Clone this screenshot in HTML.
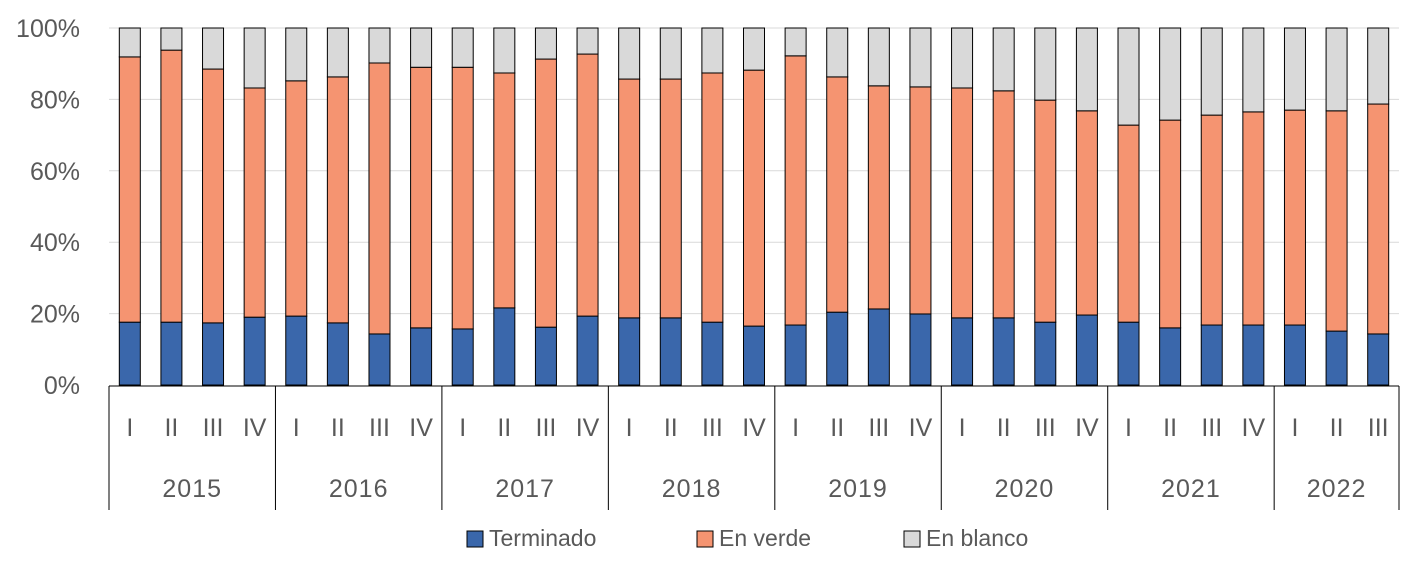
<!DOCTYPE html>
<html><head><meta charset="utf-8"><style>
body{margin:0;background:#fff;width:1417px;height:567px;overflow:hidden;font-family:"Liberation Sans",sans-serif}
svg text{font-family:"Liberation Sans",sans-serif;fill:#595959}
</style></head><body>
<svg id="c" width="1417" height="567"></svg>
<script>
const years=["2015","2016","2017","2018","2019","2020","2021","2022"];
const quarters=["I","II","III","IV","I","II","III","IV","I","II","III","IV","I","II","III","IV","I","II","III","IV","I","II","III","IV","I","II","III","IV","I","II","III"];
const terminado=[17.6,17.6,17.4,19,19.3,17.4,14.3,16,15.7,21.6,16.2,19.3,18.8,18.8,17.6,16.5,16.8,20.4,21.3,19.9,18.8,18.8,17.6,19.6,17.6,16,16.8,16.8,16.8,15.1,14.3];
const enVerde=[74.3,76.2,71.1,64.2,65.9,68.9,75.9,73,73.3,65.8,75.1,73.4,66.9,66.9,69.8,71.7,75.4,65.9,62.5,63.6,64.4,63.6,62.2,57.2,55.2,58.2,58.8,59.7,60.2,61.7,64.4];
const yTicks=[0,20,40,60,80,100];
const NS="http://www.w3.org/2000/svg";
const svg=document.getElementById('c');
const X0=109,X1=1399,Y0=385,Y1=28;
const n=quarters.length,cw=(X1-X0)/n,bw=21;
const y=v=>Y0-(Y0-Y1)*v/100;
const xc=i=>X0+(i+0.5)*cw;
function mk(t,a){const e=document.createElementNS(NS,t);for(const k in a)e.setAttribute(k,a[k]);svg.appendChild(e);return e;}
yTicks.forEach(t=>{
 if(t>0){const g=mk('line',{x1:X0,x2:X1,y1:y(t),y2:y(t),stroke:'#d9d9d9','stroke-width':1});
 
 }
 const l=mk('text',{x:80,y:y(t)+9,'text-anchor':'end','font-size':25});l.textContent=t+'%';
 
 
});
for(let i=0;i<n;i++){
 const x=xc(i)-bw/2,t=terminado[i],v=enVerde[i],b=100-t-v;
 const r1=mk('rect',{x:x,y:y(t),width:bw,height:y(0)-y(t),fill:'#3a67ab',stroke:'#000','stroke-width':1});
 
 
 const r2=mk('rect',{x:x,y:y(t+v),width:bw,height:y(t)-y(t+v),fill:'#f59471',stroke:'#000','stroke-width':1});
 
 
 const r3=mk('rect',{x:x,y:y(100),width:bw,height:y(t+v)-y(100),fill:'#d9d9d9',stroke:'#000','stroke-width':1});
 
 
 const q=mk('text',{x:xc(i),y:436,'text-anchor':'middle','font-size':25});q.textContent=quarters[i];
 
 
}
const ax=mk('line',{x1:X0,x2:X1,y1:386,y2:386,stroke:'#000','stroke-width':1});


let start=0;
years.forEach((yr,k)=>{
 const cnt=k<years.length-1?4:n-start;
 const xa=X0+start*cw,xb=X0+(start+cnt)*cw;
 const s=mk('line',{x1:xa,x2:xa,y1:386,y2:510,stroke:'#000','stroke-width':1});
 
 
 const t=mk('text',{x:(xa+xb)/2,y:497,'text-anchor':'middle','font-size':25,'letter-spacing':1});t.textContent=yr;
 
 
 start+=cnt;
});
const e=mk('line',{x1:X1,x2:X1,y1:386,y2:510,stroke:'#000','stroke-width':1});


const leg=[["Terminado","#3a67ab",467],["En verde","#f59471",697],["En blanco","#d9d9d9",904]];
leg.forEach(([lab,col,lx])=>{
 const r=mk('rect',{x:lx,y:531,width:16,height:16,fill:col,stroke:'#000','stroke-width':1});
 
 
 const t=mk('text',{x:lx+22,y:546,'font-size':23});t.textContent=lab;
 
 
});
</script>
</body></html>
